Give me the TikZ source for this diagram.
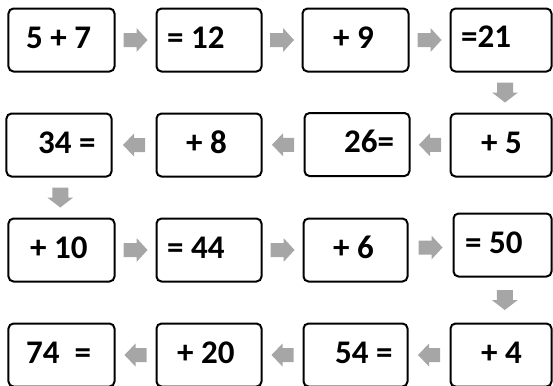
\documentclass[tikz,border=0pt]{standalone}
\usepackage{fontspec}
\setmainfont{Carlito}
\definecolor{arrowgray}{HTML}{A6A6A6}
\tikzset{
  box/.style={draw=black, line width=2bp, rounded corners=5bp, fill=white, inner sep=0pt},
  txt/.style={anchor=base west, inner sep=0pt, font=\fontsize{33bp}{40bp}\selectfont\bfseries},
  rarr/.pic={\fill[arrowgray] (-12,-7) -- (1,-7) -- (1,-12) -- (12,0) -- (1,12) -- (1,7) -- (-12,7) -- cycle;},
  larr/.pic={\fill[arrowgray] (11,-7) -- (0,-7) -- (0,-11.5) -- (-11,0) -- (0,11.5) -- (0,7) -- (11,7) -- cycle;},
  darr/.pic={\fill[arrowgray] (-8,-10) -- (8,-10) -- (8,0) -- (13,0) -- (0,10) -- (-13,0) -- (-8,0) -- cycle;}
}
\begin{document}
\begin{tikzpicture}[x=1bp, y=-1bp]
\useasboundingbox (0,0) rectangle (553,385);
% row 1
\node[box, minimum width=106bp, minimum height=63bp] (B11) at (61.5,40) {};
\node[box, minimum width=105bp, minimum height=63bp] (B12) at (209,40) {};
\node[box, minimum width=106bp, minimum height=63bp] (B13) at (355.5,40) {};
\node[box, minimum width=101bp, minimum height=63bp] (B14) at (501,40) {};
% row 2
\node[box, minimum width=105bp, minimum height=63bp] (B21) at (59,145) {};
\node[box, minimum width=105bp, minimum height=63bp] (B22) at (209,145) {};
\node[box, minimum width=105bp, minimum height=63bp] (B23) at (357,144.5) {};
\node[box, minimum width=101bp, minimum height=63bp] (B24) at (501,145) {};
% row 3
\node[box, minimum width=106bp, minimum height=63bp] (B31) at (61.5,250) {};
\node[box, minimum width=105bp, minimum height=63bp] (B32) at (209,250) {};
\node[box, minimum width=104bp, minimum height=63bp] (B33) at (355.5,250) {};
\node[box, minimum width=98bp, minimum height=63bp] (B34) at (502.5,245) {};
% row 4
\node[box, minimum width=106bp, minimum height=63bp] (B41) at (61.5,355) {};
\node[box, minimum width=105bp, minimum height=63bp] (B42) at (209,355) {};
\node[box, minimum width=104bp, minimum height=63bp] (B43) at (355.5,355) {};
\node[box, minimum width=101bp, minimum height=63bp] (B44) at (501,355) {};
% texts
\node[txt] (T11) at (26,48) {5 + 7};
\node[txt] (T12) at (167,48) {= 12};
\node[txt] (T13) at (333,48) {+ 9};
\node[txt] (T14) at (461,47) {=21};
\node[txt] (T21) at (38,153) {34 =};
\node[txt] (T22) at (186,153) {+ 8};
\node[txt] (T23) at (344,152) {26=};
\node[txt] (T24) at (481,153) {+ 5};
\node[txt] (T31) at (30,258) {+ 10};
\node[txt] (T32) at (167,258) {= 44};
\node[txt] (T33) at (333,258) {+ 6};
\node[txt] (T34) at (465,253) {= 50};
\node[txt] (T41) at (26,363) {74\ \ =};
\node[txt] (T42) at (177,363) {+ 20};
\node[txt] (T43) at (335,363) {54 =};
\node[txt] (T44) at (481,363) {+ 4};
% arrow anchor points
\path (B11.east) -- (B12.west) coordinate[midway] (A1);
\path (B12.east) -- (B13.west) coordinate[midway] (A2);
\path (B13.east) -- (B14.west) coordinate[midway] (A3);
\path (B14.south) -- (B24.north) coordinate[midway] (A4);
\path (B24.west) -- (B23.east) coordinate[midway] (A5);
\path (B23.west) -- (B22.east) coordinate[midway] (A6);
\path (B22.west) -- (B21.east) coordinate[midway] (A7);
\path (B21.south) -- (B31.north) coordinate[midway] (A8);
\path (B31.east) -- (B32.west) coordinate[midway] (A9);
\path (B32.east) -- (B33.west) coordinate[midway] (A10);
\path (B33.east) -- (B34.west) coordinate[midway] (A11);
\path (B34.south) -- (B44.north) coordinate[midway] (A12);
\path (B44.west) -- (B43.east) coordinate[midway] (A13);
\path (B43.west) -- (B42.east) coordinate[midway] (A14);
\path (B42.west) -- (B41.east) coordinate[midway] (A15);
% arrows
\pic at (A1) {rarr};
\pic at (A2) {rarr};
\pic at (A3) {rarr};
\pic at ([xshift=4bp]A4) {darr};
\pic at (A5) {larr};
\pic at (A6) {larr};
\pic at (A7) {larr};
\pic at (A8) {darr};
\pic at (A9) {rarr};
\pic at (A10) {rarr};
\pic at (A11) {rarr};
\pic at ([xshift=3bp]A12) {darr};
\pic at (A13) {larr};
\pic at (A14) {larr};
\pic at (A15) {larr};
\end{tikzpicture}
\end{document}
